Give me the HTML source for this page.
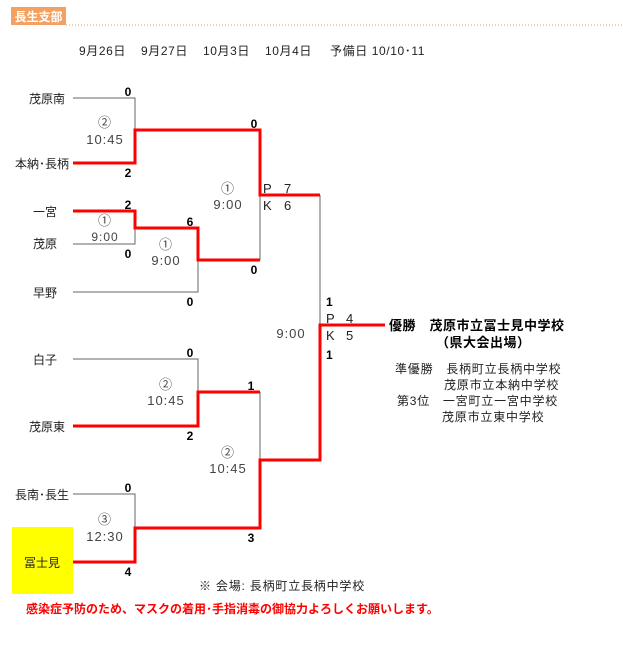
<!DOCTYPE html>
<html><head><meta charset="utf-8"><style>
body{margin:0;background:#fff;}
svg text{font-family:"Liberation Sans","Noto Sans CJK JP",sans-serif;}
</style></head><body>
<svg width="623" height="644" viewBox="0 0 623 644" xmlns="http://www.w3.org/2000/svg">
<rect x="11" y="7" width="55" height="18" fill="#f4a060"/>
<text x="38.5" y="21" font-size="12" font-weight="bold" fill="#fff" text-anchor="middle">長生支部</text>
<line x1="66" y1="25" x2="623" y2="25" stroke="#e0a050" stroke-width="1" stroke-dasharray="1,2"/>
<g font-size="12" fill="#222" letter-spacing="0.6">
<text x="79" y="55">9月26日</text><text x="141" y="55">9月27日</text><text x="203" y="55">10月3日</text><text x="265" y="55">10月4日</text><text x="330" y="55">予備日 10/10･11</text>
</g>
<rect x="12" y="527" width="61" height="67" fill="#ffff00"/>
<g stroke="#666" stroke-width="1" fill="none">
<polyline points="73,98 135,98 135,130"/>
<polyline points="73,244 135,244 135,211"/>
<polyline points="73,292 198,292 198,260"/>
<polyline points="260,260 260,195"/>
<polyline points="320,195 320,325"/>
<polyline points="73,359 198,359 198,392"/>
<polyline points="260,392 260,460"/>
<polyline points="73,494 135,494 135,528"/>
</g>
<g stroke="#ff0000" stroke-width="3" fill="none">
<polyline points="73,163 135,163 135,130 260,130 260,195 320,195"/>
<polyline points="73,211 135,211 135,228 198,228 198,260 260,260"/>
<polyline points="73,426 198,426 198,392 260,392"/>
<polyline points="73,562 135,562 135,528 260,528 260,460 320,460 320,325 385,325"/>
</g>
<g font-size="12" fill="#222" text-anchor="end">
<text x="65" y="103">茂原南</text><text x="69" y="168">本納･長柄</text><text x="57" y="216">一宮</text><text x="57" y="248">茂原</text><text x="57" y="297">早野</text><text x="57" y="364">白子</text><text x="65" y="431">茂原東</text><text x="69" y="499">長南･長生</text>
</g>
<text x="42" y="567" font-size="12" text-anchor="middle" fill="#222">冨士見</text>
<g font-size="12" font-weight="bold" fill="#000" text-anchor="middle">
<text x="128" y="96">0</text><text x="128" y="177">2</text><text x="254" y="128">0</text><text x="128" y="209">2</text><text x="128" y="258">0</text><text x="190" y="226">6</text><text x="190" y="306">0</text><text x="254" y="274">0</text>
<text x="190" y="357">0</text><text x="190" y="440">2</text><text x="251" y="390">1</text><text x="128" y="492">0</text><text x="128" y="576">4</text><text x="251" y="542">3</text>
</g>
<g font-size="12" font-weight="bold" fill="#000" text-anchor="start">
<text x="326" y="306">1</text><text x="326" y="359">1</text>
</g>
<g font-size="13" fill="#222">
<text x="263" y="193">P</text><text x="284" y="193">7</text><text x="263" y="210">K</text><text x="284" y="210">6</text>
<text x="326" y="323">P</text><text x="346" y="323">4</text><text x="326" y="340">K</text><text x="346" y="340">5</text>
</g>
<g font-size="13" fill="#444" text-anchor="middle" letter-spacing="1">
<text x="105" y="127">②</text><text x="105" y="144">10:45</text>
<text x="228" y="193">①</text><text x="228" y="209">9:00</text>
<text x="105" y="225">①</text><text x="105" y="241" font-size="12">9:00</text>
<text x="166" y="249">①</text><text x="166" y="265">9:00</text>
<text x="291" y="338">9:00</text>
<text x="166" y="389">②</text><text x="166" y="405">10:45</text>
<text x="228" y="457">②</text><text x="228" y="473">10:45</text>
<text x="105" y="524">③</text><text x="105" y="541">12:30</text>
</g>
<g font-size="13" fill="#000" font-weight="bold" letter-spacing="0.5">
<text x="389" y="330">優勝　茂原市立冨士見中学校</text>
<text x="436" y="347">（県大会出場）</text>
</g>
<g font-size="12" fill="#222" letter-spacing="0.8">
<text x="395" y="373">準優勝　長柄町立長柄中学校</text>
<text x="444" y="389">茂原市立本納中学校</text>
<text x="397" y="405">第3位　一宮町立一宮中学校</text>
<text x="442" y="421">茂原市立東中学校</text>
<text x="199" y="590">※ 会場: 長柄町立長柄中学校</text>
</g>
<text x="26" y="613" font-size="12" font-weight="bold" fill="#ff0000">感染症予防のため、マスクの着用･手指消毒の御協力よろしくお願いします。</text>
</svg>
</body></html>
